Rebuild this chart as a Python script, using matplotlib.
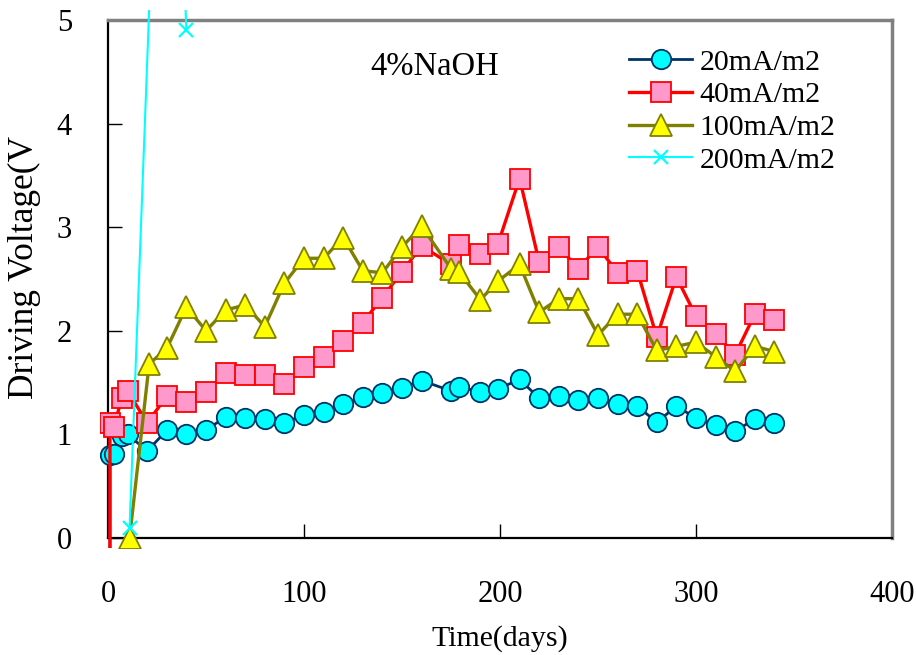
import matplotlib
matplotlib.use("Agg")
import matplotlib.pyplot as plt
from matplotlib.patches import Rectangle

plt.rcParams['font.family'] = ['Liberation Serif', 'DejaVu Serif']

# ---- data ----
days_a = [1, 1, 3, 7, 10, 20, 30, 40, 50, 60, 70, 80, 90, 100, 110, 120, 130, 140,
          150, 160, 175, 179, 190, 199, 210, 220, 230, 240, 250, 260, 270, 280, 290,
          300, 310, 320, 330, 340]
v20 = [-0.1, 0.80, 0.81, 0.98, 1.00, 0.84, 1.04, 1.00, 1.04, 1.17, 1.16, 1.15, 1.11,
       1.19, 1.22, 1.29, 1.36, 1.40, 1.45, 1.52, 1.42, 1.46, 1.41, 1.44, 1.53, 1.35,
       1.37, 1.33, 1.35, 1.29, 1.27, 1.12, 1.27, 1.16, 1.09, 1.03, 1.15, 1.11]
v40 = [-0.1, 1.11, 1.07, 1.35, 1.42, 1.11, 1.37, 1.31, 1.41, 1.59, 1.57, 1.57, 1.49,
       1.65, 1.75, 1.90, 2.08, 2.32, 2.57, 2.82, 2.64, 2.83, 2.74, 2.84, 3.47, 2.66,
       2.81, 2.60, 2.81, 2.56, 2.58, 1.94, 2.52, 2.14, 1.97, 1.77, 2.16, 2.10]
days_b = [11, 21, 30, 40, 50, 60, 70, 80, 90, 100, 110, 120, 130, 140, 150, 160,
          175, 179, 190, 199, 210, 220, 230, 240, 250, 260, 270, 280, 290, 300, 310,
          320, 330, 340]
v100 = [0.0, 1.68, 1.83, 2.23, 2.00, 2.20, 2.25, 2.04, 2.46, 2.70, 2.70, 2.90, 2.58,
        2.56, 2.81, 3.01, 2.60, 2.57, 2.30, 2.48, 2.64, 2.18, 2.31, 2.31, 1.96, 2.16,
        2.16, 1.81, 1.85, 1.89, 1.75, 1.61, 1.85, 1.80]
days_c = [11, 30, 40]
v200 = [0.1, 9.6, 4.9]

labels = ['20mA/m2', '40mA/m2', '100mA/m2', '200mA/m2']
xticks = [0, 100, 200, 300, 400]
yticks = [0, 1, 2, 3, 4, 5]

fig = plt.figure(figsize=(9.16, 6.55), dpi=100)
ax = fig.add_axes([108/916, 1-538/655, 784/916, 518/655])

l1, = ax.plot(days_a, v20, color='#003366', lw=2.0, marker='o', ms=14,
              mfc='#00FFFF', mec='#003366', mew=1.3, markevery=list(range(1, len(days_a))),
              label=labels[0], zorder=3)
l2, = ax.plot(days_a, v40, color='#FF0000', lw=2.4, marker='s', ms=14,
              mfc='#FF99CC', mec='#FF0000', mew=1.3, markevery=list(range(1, len(days_a))),
              label=labels[1], zorder=3)
l3, = ax.plot(days_b, v100, color='#808000', lw=2.4, marker='^', ms=15.5,
              mfc='#FFFF00', mec='#808000', mew=1.3, label=labels[2], zorder=3)
l4, = ax.plot(days_c, v200, color='#00FFFF', lw=1.5, marker='x', ms=10,
              mec='#00FFFF', mew=1.6, label=labels[3], zorder=3)
clip = Rectangle((-0.01, -0.02), 1.02, 1.04, transform=ax.transAxes)
for ln in (l1, l2, l3, l4):
    ln.set_clip_path(clip)

ax.set_xlim(0, 400)
ax.set_ylim(0, 5)
ax.set_xticks(xticks)
ax.set_yticks(yticks)
ax.tick_params(axis='both', direction='in', length=10, width=1.0, color='black',
               labelsize=22, labelcolor='black')
ax.tick_params(axis='x', pad=30)
ax.tick_params(axis='y', pad=26)

for s in ('left', 'bottom'):
    ax.spines[s].set_color('black')
    ax.spines[s].set_linewidth(1.6)
for s in ('top', 'right'):
    ax.spines[s].set_color('#808080')
    ax.spines[s].set_linewidth(2.5)

ax.set_xlabel('Time(days)', fontsize=21.5, labelpad=12)
ax.set_ylabel('Driving Voltage(V', fontsize=25.5)
ax.yaxis.set_label_coords(-0.086, 0.522)

ax.text(0.417, 0.91, '4%NaOH', transform=ax.transAxes, fontsize=23.5,
        ha='center', va='center')

leg = ax.legend(loc='upper left', bbox_to_anchor=(0.665, 0.944), frameon=False,
                fontsize=21.5, handlelength=2.1, handletextpad=0.25,
                labelspacing=0.19, borderpad=0, borderaxespad=0, numpoints=1)

fig.savefig('out.png', dpi=100)
